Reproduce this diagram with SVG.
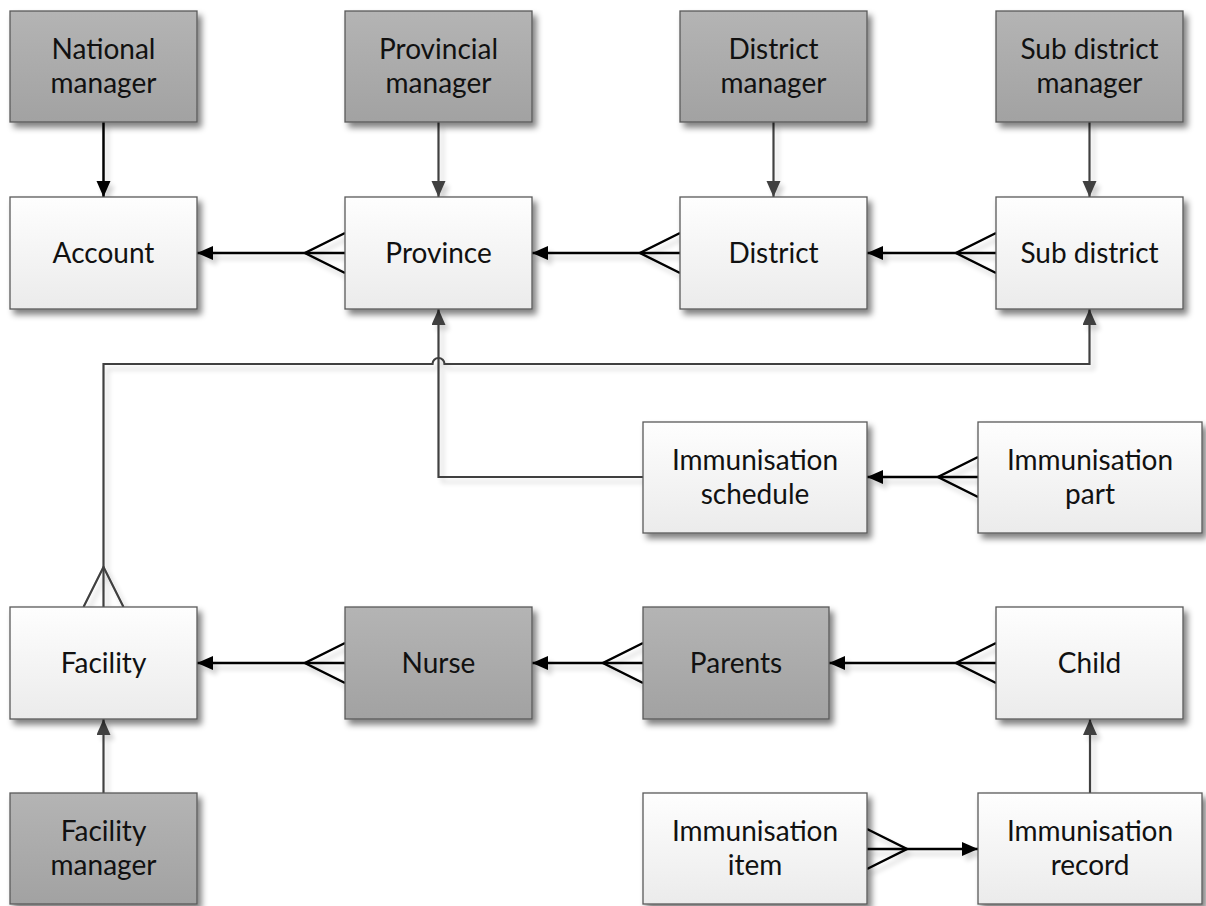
<svg xmlns="http://www.w3.org/2000/svg" width="1206" height="906" viewBox="0 0 1206 906">
  <defs>
    <linearGradient id="gLight" x1="0" y1="0" x2="0" y2="1">
      <stop offset="0" stop-color="#fefefe"/>
      <stop offset="1" stop-color="#ebebeb"/>
    </linearGradient>
    <linearGradient id="gDark" x1="0" y1="0" x2="0" y2="1">
      <stop offset="0" stop-color="#b4b4b4"/>
      <stop offset="1" stop-color="#a2a2a2"/>
    </linearGradient>
    <filter id="shadow" x="-20%" y="-20%" width="150%" height="150%">
      <feGaussianBlur in="SourceAlpha" stdDeviation="3"/>
      <feOffset dx="4" dy="5" result="b"/>
      <feComponentTransfer><feFuncA type="linear" slope="0.5"/></feComponentTransfer>
      <feMerge><feMergeNode/><feMergeNode in="SourceGraphic"/></feMerge>
    </filter>
    <filter id="lineShadow" x="-20%" y="-20%" width="150%" height="150%">
      <feGaussianBlur in="SourceAlpha" stdDeviation="2.5"/>
      <feOffset dx="4" dy="5" result="b"/>
      <feComponentTransfer><feFuncA type="linear" slope="0.18"/></feComponentTransfer>
      <feMerge><feMergeNode/><feMergeNode in="SourceGraphic"/></feMerge>
    </filter>
    <marker id="arrowBlack" markerUnits="userSpaceOnUse" markerWidth="18" markerHeight="16" refX="16" refY="7" orient="auto">
      <path d="M0,0 L16,7 L0,14 z" fill="#000"/>
    </marker>
    <marker id="arrowGray" markerUnits="userSpaceOnUse" markerWidth="18" markerHeight="16" refX="16" refY="7" orient="auto">
      <path d="M0,0 L16,7 L0,14 z" fill="#404040"/>
    </marker>
  </defs>
  <style>
    .box rect { stroke: #595959; stroke-width: 1.3; filter: url(#shadow); }
    .light rect { fill: url(#gLight); }
    .dark rect { fill: url(#gDark); }
    .box text { font-family: Lato, "Open Sans", sans-serif; font-size: 28px; fill: #111; text-anchor: middle; }
    .conn path { fill: none; stroke-linejoin: miter; }
    .k { stroke: #000; stroke-width: 2.5; }
    .g { stroke: #404040; stroke-width: 2.2; }
    .ka { marker-end: url(#arrowBlack); }
    .ga { marker-end: url(#arrowGray); }
  </style>

  <!-- connectors -->
  <g id="connectors" class="conn" filter="url(#lineShadow)">
    <!-- managers to their entities -->
    <path class="k ka" d="M103.5,122 V197"/>
    <path class="g ga" d="M438.5,122 V197"/>
    <path class="g ga" d="M773.5,122 V197"/>
    <path class="g ga" d="M1089.5,122 V197"/>
    <!-- top row, many-to-one -->
    <path class="k ka" d="M345,253 H197"/>
    <path class="k" d="M345,233 L305,253 L345,273"/>
    <path class="k ka" d="M680,253 H532"/>
    <path class="k" d="M680,233 L640,253 L680,273"/>
    <path class="k ka" d="M996,253 H867"/>
    <path class="k" d="M996,233 L956,253 L996,273"/>
    <!-- facility to sub district, hopping the province link -->
    <path class="g ga" d="M103.5,607 V364 H432.5 A6,6 0 0 1 444.5,364 H1089.5 V309"/>
    <path class="g" d="M83.5,607 L103.5,567 L123.5,607"/>
    <!-- schedule to province -->
    <path class="g ga" d="M643,477 H438.5 V309"/>
    <!-- part to schedule -->
    <path class="k ka" d="M978,477 H867"/>
    <path class="k" d="M978,457 L938,477 L978,497"/>
    <!-- facility row -->
    <path class="k ka" d="M345,663 H197"/>
    <path class="k" d="M345,643 L305,663 L345,683"/>
    <path class="k ka" d="M643,663 H532"/>
    <path class="k" d="M643,643 L603,663 L643,683"/>
    <path class="k ka" d="M996,663 H829"/>
    <path class="k" d="M996,643 L956,663 L996,683"/>
    <!-- bottom row -->
    <path class="g ga" d="M103.5,793 V719"/>
    <path class="g ga" d="M1090,793 V719"/>
    <path class="k ka" d="M867,849 H978"/>
    <path class="k" d="M867,829 L907,849 L867,869"/>
  </g>

  <!-- managers -->
  <g id="national-manager" class="box dark">
    <rect x="10" y="11" width="187" height="111"/>
    <text x="103.5" y="59">National</text>
    <text x="103.5" y="93">manager</text>
  </g>
  <g id="provincial-manager" class="box dark">
    <rect x="345" y="11" width="187" height="111"/>
    <text x="438.5" y="59">Provincial</text>
    <text x="438.5" y="93">manager</text>
  </g>
  <g id="district-manager" class="box dark">
    <rect x="680" y="11" width="187" height="111"/>
    <text x="773.5" y="59">District</text>
    <text x="773.5" y="93">manager</text>
  </g>
  <g id="sub-district-manager" class="box dark">
    <rect x="996" y="11" width="187" height="111"/>
    <text x="1089.5" y="59">Sub district</text>
    <text x="1089.5" y="93">manager</text>
  </g>

  <!-- administrative hierarchy -->
  <g id="account" class="box light">
    <rect x="10" y="197" width="187" height="112"/>
    <text x="103.5" y="263">Account</text>
  </g>
  <g id="province" class="box light">
    <rect x="345" y="197" width="187" height="112"/>
    <text x="438.5" y="263">Province</text>
  </g>
  <g id="district" class="box light">
    <rect x="680" y="197" width="187" height="112"/>
    <text x="773.5" y="263">District</text>
  </g>
  <g id="sub-district" class="box light">
    <rect x="996" y="197" width="187" height="112"/>
    <text x="1089.5" y="263">Sub district</text>
  </g>

  <!-- schedule -->
  <g id="immunisation-schedule" class="box light">
    <rect x="643" y="422" width="224" height="111"/>
    <text x="755" y="470">Immunisation</text>
    <text x="755" y="504">schedule</text>
  </g>
  <g id="immunisation-part" class="box light">
    <rect x="978" y="422" width="224" height="111"/>
    <text x="1090" y="470">Immunisation</text>
    <text x="1090" y="504">part</text>
  </g>

  <!-- facility row -->
  <g id="facility" class="box light">
    <rect x="10" y="607" width="187" height="112"/>
    <text x="103.5" y="673">Facility</text>
  </g>
  <g id="nurse" class="box dark">
    <rect x="345" y="607" width="187" height="112"/>
    <text x="438.5" y="673">Nurse</text>
  </g>
  <g id="parents" class="box dark">
    <rect x="643" y="607" width="186" height="112"/>
    <text x="736" y="673">Parents</text>
  </g>
  <g id="child" class="box light">
    <rect x="996" y="607" width="187" height="112"/>
    <text x="1089.5" y="673">Child</text>
  </g>

  <!-- bottom row -->
  <g id="facility-manager" class="box dark">
    <rect x="10" y="793" width="187" height="111"/>
    <text x="103.5" y="841">Facility</text>
    <text x="103.5" y="875">manager</text>
  </g>
  <g id="immunisation-item" class="box light">
    <rect x="643" y="793" width="224" height="111"/>
    <text x="755" y="841">Immunisation</text>
    <text x="755" y="875">item</text>
  </g>
  <g id="immunisation-record" class="box light">
    <rect x="978" y="793" width="224" height="111"/>
    <text x="1090" y="841">Immunisation</text>
    <text x="1090" y="875">record</text>
  </g>
</svg>
